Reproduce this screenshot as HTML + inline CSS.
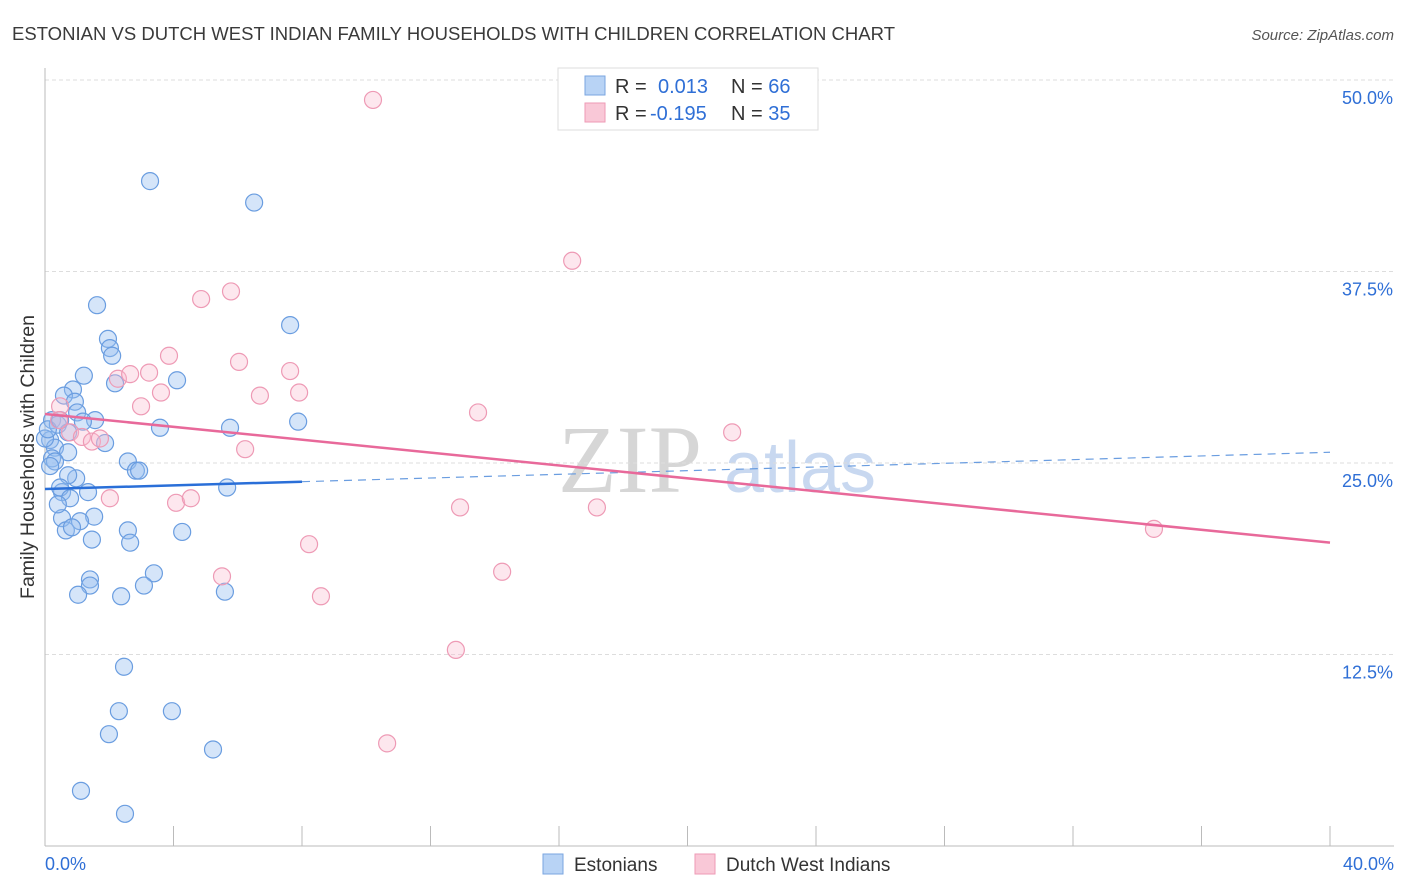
<!DOCTYPE html>
<html><head><meta charset="utf-8"><style>
body{margin:0;background:#fff;font-family:"Liberation Sans",sans-serif}
svg{display:block}
</style></head><body>
<svg width="1406" height="892" id="c">
<text x="12" y="40" font-size="18.5" fill="#3a3a3a" textLength="883">ESTONIAN VS DUTCH WEST INDIAN FAMILY HOUSEHOLDS WITH CHILDREN CORRELATION CHART</text>
<text x="1394" y="40" font-size="15" fill="#555" font-style="italic" text-anchor="end">Source: ZipAtlas.com</text>
<text x="630" y="492" font-size="96" fill="#d6d6d6" font-family="Liberation Serif" text-anchor="middle">ZIP</text>
<text x="800" y="492" font-size="72" fill="#c8d8f0" text-anchor="middle">atlas</text>
<text transform="translate(34,457) rotate(-90)" font-size="19.5" fill="#333" text-anchor="middle">Family Households with Children</text>
<g id="grid"></g><g id="marks"></g>
<g>
<rect x="558" y="68" width="260" height="62" fill="#fff" stroke="#ddd"/>
<rect x="585" y="76" width="20" height="19" fill="#b8d3f5" stroke="#7aa6e0"/>
<rect x="585" y="103" width="20" height="19" fill="#f9c8d7" stroke="#ee9ab5"/>
<text x="615" y="93" font-size="20" fill="#333">R = <tspan fill="#2f6fd6" x="658">0.013</tspan><tspan x="731" fill="#333">N = </tspan><tspan fill="#2f6fd6">66</tspan></text>
<text x="615" y="120" font-size="20" fill="#333">R = <tspan fill="#2f6fd6" x="650">-0.195</tspan><tspan x="731" fill="#333">N = </tspan><tspan fill="#2f6fd6">35</tspan></text>
</g>
<g>
<rect x="543" y="854" width="20" height="20" fill="#b8d3f5" stroke="#7aa6e0"/>
<text x="574" y="871" font-size="19" fill="#333">Estonians</text>
<rect x="695" y="854" width="20" height="20" fill="#f9c8d7" stroke="#ee9ab5"/>
<text x="726" y="871" font-size="19" fill="#333">Dutch West Indians</text>
</g>
</svg>
<script>
const yTicks=[12.5,25,37.5,50];
const yTickLabels=["12.5%","25.0%","37.5%","50.0%"];
const xTickLabels=["0.0%","40.0%"];
const blueX=[3.27,6.51,1.62,7.63,1.96,2.02,2.09,4.11,1.21,2.18,0.87,0.59,0.93,1.00,1.56,1.18,0.22,0.40,0.72,3.58,5.76,7.88,1.87,0.16,0.31,0.72,0.22,0.31,2.58,2.83,2.93,0.97,0.72,1.34,0.53,0.47,5.67,0.53,1.53,1.09,0.65,0.84,2.58,4.27,1.46,2.65,3.39,1.40,1.40,3.08,1.03,2.37,5.60,2.46,2.30,3.95,1.99,5.23,1.12,2.49,0,0.09,0.47,0.16,0.78,0.40];
const blueY=[43.4,42.0,35.3,34.0,33.1,32.5,32.0,30.4,30.7,30.2,29.8,29.4,29.0,28.3,27.8,27.7,27.8,27.5,27.0,27.3,27.3,27.7,26.3,26.5,26.0,25.7,25.3,25.1,25.1,24.5,24.5,24.0,24.2,23.1,23.1,23.4,23.4,21.4,21.5,21.2,20.6,20.8,20.6,20.5,20.0,19.8,17.8,17.4,17.0,17.0,16.4,16.3,16.6,11.7,8.8,8.8,7.3,6.3,3.6,2.1,26.6,27.2,27.8,24.8,22.7,22.3];
const pinkX=[10.21,16.41,4.86,5.79,3.86,6.04,2.27,2.65,3.24,3.61,6.69,7.63,7.91,2.99,13.48,0.47,0.44,0.78,1.15,1.46,1.71,6.23,21.39,2.02,4.08,4.54,12.92,17.18,34.52,8.22,5.51,14.23,8.59,12.79,10.65];
const pinkY=[48.7,38.2,35.7,36.2,32.0,31.6,30.5,30.8,30.9,29.6,29.4,31.0,29.6,28.7,28.3,28.7,27.8,27.0,26.7,26.4,26.6,25.9,27.0,22.7,22.4,22.7,22.1,22.1,20.7,19.7,17.6,17.9,16.3,12.8,6.7];
const blueTrend=[23.3,25.7]; const blueSolidEnd=8.0;
const pinkTrend=[28.2,19.8];
const NS="http://www.w3.org/2000/svg";
const X=v=>45+v/40*1285, Y=v=>846-v/50*766;
function mk(t,a,p){const e=document.createElementNS(NS,t);for(const k in a)e.setAttribute(k,a[k]);p.appendChild(e);return e;}
const g=document.getElementById('grid'),m=document.getElementById('marks');
yTicks.forEach((t,i)=>{
 const l=mk('line',{x1:45,x2:1394,y1:Y(t),y2:Y(t),stroke:'#ddd','stroke-dasharray':'4,3'},g);
 
 
 const tx=mk('text',{x:1393,y:Y(t)+24,'font-size':18,fill:'#2f6fd6','text-anchor':'end'},g);tx.textContent=yTickLabels[i];
 
 
});
mk('line',{x1:45,x2:45,y1:68,y2:846,stroke:'#bbb'},g);
mk('line',{x1:45,x2:1394,y1:846,y2:846,stroke:'#bbb'},g);
for(let i=0;i<=10;i++){const t=mk('line',{x1:X(i*4),x2:X(i*4),y1:826,y2:846,stroke:'#bbb'},g);
 
 }
[[0,'start',45],[40,'end',1394]].forEach((d,i)=>{const t=mk('text',{x:d[2],y:870,'font-size':18,fill:'#2f6fd6','text-anchor':d[1]},g);t.textContent=xTickLabels[i];
 
 });
blueX.forEach((x,i)=>{const c=mk('circle',{cx:X(x),cy:Y(blueY[i]),r:8.5,fill:'rgba(150,190,240,0.4)',stroke:'#6a9de0','stroke-width':1.2},m);
 
 });
pinkX.forEach((x,i)=>{const c=mk('circle',{cx:X(x),cy:Y(pinkY[i]),r:8.5,fill:'rgba(248,185,205,0.35)',stroke:'#ee9ab5','stroke-width':1.2},m);
 
 });
const by=x=>blueTrend[0]+(blueTrend[1]-blueTrend[0])*x/40;
let l=mk('line',{x1:X(0),y1:Y(blueTrend[0]),x2:X(blueSolidEnd),y2:Y(by(blueSolidEnd)),stroke:'#2a6fd8','stroke-width':2.5},m);


l=mk('line',{x1:X(blueSolidEnd),y1:Y(by(blueSolidEnd)),x2:X(40),y2:Y(blueTrend[1]),stroke:'#6a9de0','stroke-width':1.2,'stroke-dasharray':'8,6'},m);


l=mk('line',{x1:X(0),y1:Y(pinkTrend[0]),x2:X(40),y2:Y(pinkTrend[1]),stroke:'#e8699a','stroke-width':2.5},m);


</script>
</body></html>
